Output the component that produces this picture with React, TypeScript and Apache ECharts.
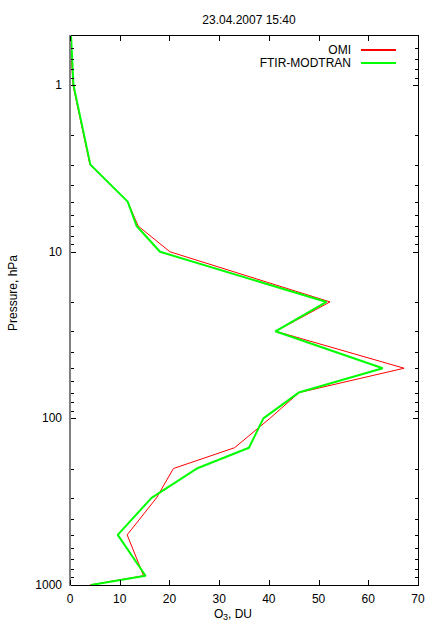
import React, { useEffect, useRef } from "react";
import * as echarts from "echarts";

const titleText = "23.04.2007 15:40";
const pressureLevels = [1000, 880, 500, 300, 200, 150, 100, 70, 50, 30, 20, 10, 7, 5, 3, 1, 0.5];
const omiValues = [4.0, 14.8, 11.5, 17.4, 20.8, 33.1, 40.2, 46.1, 67.2, 41.4, 52.3, 20.1, 13.7, 11.6, 4.0, 0.6, 0.0];
const ftirValues = [4.2, 15.2, 9.6, 16.4, 25.5, 36.0, 38.9, 46.0, 62.9, 41.3, 51.6, 18.1, 13.4, 11.6, 4.1, 0.7, 0.2];
const xTicks = [0, 10, 20, 30, 40, 50, 60, 70];
const majorTicks = [1, 10, 100, 1000];
const minorTicks = [
  0.6, 0.7, 0.8, 0.9,
  2, 3, 4, 5, 6, 7, 8, 9,
  20, 30, 40, 50, 60, 70, 80, 90,
  200, 300, 400, 500, 600, 700, 800, 900,
];
const xMin = 0;
const xMax = 70;
const xStep = 10;
const yMin = 0.5;
const yMax = 1000;

const FONT = "'Liberation Sans', Arial, Helvetica, sans-serif";

export default function App() {
  const ref = useRef<HTMLDivElement>(null);
  useEffect(() => {
    if (!ref.current) return;
    const chart = echarts.init(ref.current, null, { renderer: "svg" });
    const omiData = pressureLevels.map((p, i) => [omiValues[i], p]);
    const ftirData = pressureLevels.map((p, i) => [ftirValues[i], p]);
    const isPow10 = (v: number) => {
      const l = Math.log10(v);
      return Math.abs(l - Math.round(l)) < 1e-6;
    };
    chart.setOption({
      animation: false,
      backgroundColor: "#ffffff",
      textStyle: { fontFamily: FONT },
      title: {
        text: titleText,
        left: 244,
        textAlign: "center",
        top: 9,
        textStyle: { fontSize: 12, fontWeight: "normal", color: "#000", fontFamily: FONT },
      },
      legend: {
        orient: "vertical",
        right: 35,
        top: 39,
        align: "right",
        icon: "rect",
        itemWidth: 35,
        itemHeight: 2,
        itemGap: 1,
        data: ["OMI", "FTIR-MODTRAN"],
        textStyle: { fontSize: 12, color: "#000", fontFamily: FONT, padding: [0, 5, 0, 0] },
      },
      grid: { left: 70, right: 18, top: 35, bottom: 38 },
      xAxis: {
        type: "value",
        min: xMin,
        max: xMax,
        interval: xStep,
        position: "bottom",
        axisLine: { show: false },
        axisTick: { show: false },
        axisLabel: { show: true, color: "#000", fontSize: 12, margin: 8, fontFamily: FONT },
        splitLine: { show: false },
      },
      yAxis: {
        type: "log",
        logBase: 10,
        min: yMin,
        max: yMax,
        inverse: true,
        position: "left",
        axisLine: { show: false },
        axisTick: { show: false },
        axisLabel: {
          show: true,
          color: "#000",
          fontSize: 12,
          margin: 8,
          fontFamily: FONT,
          formatter: (v: number) => (isPow10(v) ? String(Math.round(v)) : ""),
        },
        splitLine: { show: false },
      },
      series: [
        {
          name: "OMI",
          type: "line",
          data: omiData,
          symbol: "none",
          showSymbol: false,
          lineStyle: { color: "#ff0000", width: 1 },
          itemStyle: { color: "#ff0000" },
          z: 3,
        },
        {
          name: "FTIR-MODTRAN",
          type: "line",
          data: ftirData,
          symbol: "none",
          showSymbol: false,
          lineStyle: { color: "#00ff00", width: 2 },
          itemStyle: { color: "#00ff00" },
          z: 4,
        },
      ],
    });

    // Frame and ticks placed through the chart's own scales, drawn as filled rects
    const px = (x: number, y: number) => chart.convertToPixel({ gridIndex: 0 }, [x, y]) as number[];
    const tl = px(xMin, yMin);
    const br = px(xMax, yMax);
    const L = Math.round(tl[0]);
    const T = Math.round(tl[1]);
    const R = Math.round(br[0]);
    const B = Math.round(br[1]);
    const els: any[] = [];
    const box = (x: number, y: number, w: number, h: number, color = "#000") =>
      els.push({
        type: "rect",
        silent: true,
        z: 100,
        shape: { x, y, width: w, height: h },
        style: { fill: color, stroke: null },
      });
    // frame
    box(L, T, R - L + 1, 1); // top
    box(L, B, R - L + 1, 1); // bottom
    box(R, T, 1, B - T + 1); // right
    box(L - 1, T, 2, B - T + 1, "#808080"); // left (grey)
    xTicks.forEach((v) => {
      const x = Math.round(px(v, yMin)[0]);
      box(x, B - 5, 1, 5);
      box(x, T + 1, 1, 5);
    });
    majorTicks.forEach((v) => {
      const y = Math.round(px(xMin, v)[1]);
      box(L + 1, y, 5, 1);
      box(R - 5, y, 5, 1);
    });
    minorTicks.forEach((v) => {
      const y = Math.round(px(xMin, v)[1]);
      box(L + 1, y, 3, 1);
      box(R - 3, y, 3, 1);
    });

    chart.setOption({
      graphic: [
        ...els,
        {
          type: "text",
          x: 13,
          y: 293,
          rotation: Math.PI / 2,
          style: {
            text: "Pressure, hPa",
            fill: "#000",
            font: `12px ${FONT}`,
            align: "center",
            verticalAlign: "middle",
          },
        },
        {
          type: "group",
          x: 234,
          y: 614,
          children: [
            {
              type: "text",
              x: -20,
              y: 0,
              style: { text: "O", fill: "#000", font: `12px ${FONT}`, align: "left", verticalAlign: "middle" },
            },
            {
              type: "text",
              x: -11,
              y: 3,
              style: { text: "3", fill: "#000", font: `9px ${FONT}`, align: "left", verticalAlign: "middle" },
            },
            {
              type: "text",
              x: -6,
              y: 0,
              style: { text: ", DU", fill: "#000", font: `12px ${FONT}`, align: "left", verticalAlign: "middle" },
            },
          ],
        },
      ],
    });
    return () => chart.dispose();
  }, []);
  return (
    <div
      ref={ref}
      style={{ position: "fixed", left: 0, top: 0, width: 436, height: 623 }}
    />
  );
}
